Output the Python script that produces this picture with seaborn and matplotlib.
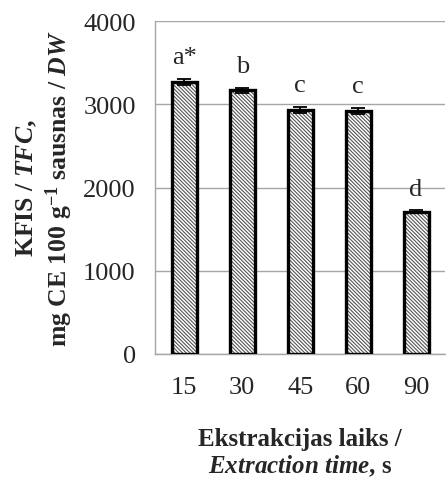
import numpy as np
import pandas as pd
import matplotlib
matplotlib.use('Agg')
import matplotlib.pyplot as plt
import seaborn as sns

## Dados
laiks = ['15', '30', '45', '60', '90']
kfis = [3270, 3170, 2930, 2920, 1710]
kluda = [35, 30, 35, 35, 15]
burti = ['a*', 'b', 'c', 'c', 'd']

df = pd.DataFrame({'laiks': laiks, 'kfis': kfis})

sns.set_style('white')
plt.rcParams['font.family'] = ['Liberation Serif', 'DejaVu Serif']
plt.rcParams['mathtext.fontset'] = 'custom'
plt.rcParams['mathtext.rm'] = 'Liberation Serif:bold'
plt.rcParams['mathtext.bfit'] = 'Liberation Serif:italic:bold'
plt.rcParams['mathtext.it'] = 'Liberation Serif:italic:bold'
plt.rcParams['hatch.linewidth'] = 0.8

fig = plt.figure(figsize=(4.46, 4.81), dpi=100)
ax = fig.add_axes([0.348, 0.262, 0.65, 0.692])

# hatch fill
sns.barplot(data=df, x='laiks', y='kfis', color='white', width=0.43,
            edgecolor='#555555', linewidth=0, hatch='\\' * 9, ax=ax, zorder=2)
# black outline
sns.barplot(data=df, x='laiks', y='kfis', fill=False, width=0.43,
            edgecolor='black', linewidth=2.4, ax=ax, zorder=3)

x = np.arange(len(laiks))
ax.errorbar(x, kfis, yerr=kluda, fmt='none', ecolor='black', elinewidth=1.3,
            capsize=5, capthick=1.3, zorder=4)

for i in range(len(laiks)):
    ax.text(x[i], kfis[i] + kluda[i] + 130, burti[i], ha='center', va='bottom',
            fontsize=19)

ax.set_ylim(0, 4000)
ax.set_xlim(-0.5, 4.5)
ax.set_yticks([0, 1000, 2000, 3000, 4000])
ax.yaxis.grid(True, color='#a6a6a6', linewidth=1)
ax.set_axisbelow(True)
ax.set_xticks(x)
ax.set_xticks(np.arange(-0.5, 5, 1), minor=True)
ax.tick_params(axis='x', which='major', length=0, labelsize=19, pad=16)
ax.tick_params(axis='x', which='minor', length=5, color='#a6a6a6', width=1)
ax.tick_params(axis='y', length=5, color='#a6a6a6', width=1, labelsize=19, pad=9)

for s in ['top', 'right']:
    ax.spines[s].set_visible(False)
for s in ['left', 'bottom']:
    ax.spines[s].set_color('#a6a6a6')
    ax.spines[s].set_linewidth(1)

ax.set_xlabel('Ekstrakcijas laiks /\n$\\mathbfit{Extraction\\ time}$, s',
              fontsize=18, fontweight='bold', labelpad=21, linespacing=1.1)
ax.set_ylabel('KFIS / $\\mathbfit{TFC}$,\nmg CE 100 g$^{-1}$ sausnas / $\\mathbfit{DW}$',
              fontsize=18.5, fontweight='bold', labelpad=6, linespacing=1.2)

fig.savefig('out.png', dpi=100)
